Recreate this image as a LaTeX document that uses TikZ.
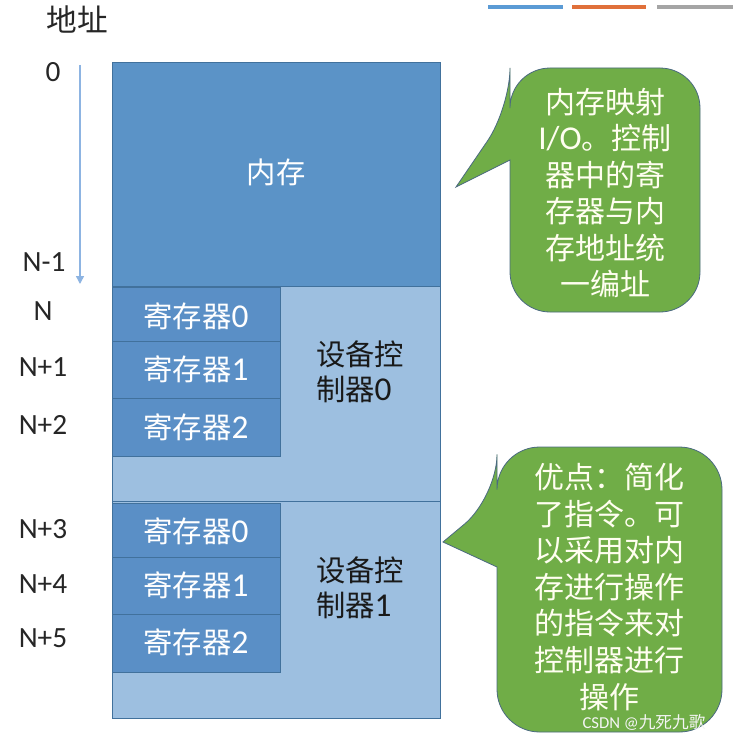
\documentclass[tikz,border=0pt]{standalone}
\usepackage{fontspec}
\setmainfont{Carlito}
\newfontfamily\cjk{Noto Sans CJK SC}
\usetikzlibrary{arrows.meta}
\definecolor{memblue}{HTML}{5B93C7}
\definecolor{ctlblue}{HTML}{9DBFE0}
\definecolor{regblue}{HTML}{5A8FC6}
\definecolor{edgeblue}{HTML}{41719C}
\definecolor{callgreen}{HTML}{70AD47}
\definecolor{callline}{HTML}{4A6A80}
\definecolor{legblue}{HTML}{5B9BD5}
\definecolor{legorange}{HTML}{E0703A}
\definecolor{leggray}{HTML}{A5A5A5}
\definecolor{arrowblue}{HTML}{8DB4E2}
\newcommand{\dg}[1]{{\fontsize{25}{25}\selectfont #1}}
\begin{document}
\begin{tikzpicture}[x=0.75pt,y=-0.75pt,
  addr/.style={font=\fontsize{22}{22}\selectfont, text=black!85, inner sep=0pt},
  regbox/.style={fill=regblue, draw=edgeblue, line width=0.6pt},
  ctlbox/.style={fill=ctlblue, draw=edgeblue, line width=0.6pt},
  regtxt/.style={text=white, font=\fontsize{22}{22}\selectfont, inner sep=0pt},
  ctltxt/.style={align=left, text=black!90, font=\fontsize{22}{26}\selectfont, inner sep=0pt},
  callout/.style={fill=callgreen, draw=callline, line width=0.6pt},
  calltxt/.style={align=center, text=white!94!yellow, font=\fontsize{22.5}{27.4}\selectfont, inner sep=0pt},
  legline/.style={line width=3pt}
]
\useasboundingbox (0,0) rectangle (736,742);
\fill[white] (0,0) rectangle (736,742);

% legend lines
\draw[legline, legblue] (488,7) -- (563,7);
\draw[legline, legorange] (572,7) -- (646,7);
\draw[legline, leggray] (657,7) -- (733,7);

% address title and labels
\node[font=\fontsize{23}{23}\selectfont, text=black!85, inner sep=0pt] (title) at (77,19) {\cjk 地址};
\node[addr] (a0) at (53,72) {0};
\node[addr] (aN1) at (44,262) {N-1};
\node[addr] (aN) at (43,311) {N};
\node[addr] (aNp1) at (43,367) {N+1};
\node[addr] (aNp2) at (43,425) {N+2};
\node[addr] (aNp3) at (43,529) {N+3};
\node[addr] (aNp4) at (43,584) {N+4};
\node[addr] (aNp5) at (43,638) {N+5};

\coordinate (arrTop) at (80,65);
\coordinate (arrBot) at (80,284);
\draw[arrowblue, line width=1.1pt, -{Triangle[width=6pt,length=6pt]}] (arrTop) -- (arrBot);

% memory block
\filldraw[fill=memblue, draw=edgeblue, line width=0.6pt] (112,62) rectangle (440,286);
\node[text=white, font=\fontsize{22}{22}\selectfont, inner sep=0pt] (mem) at (276,172) {\cjk 内存};

% controller 0
\filldraw[ctlbox] (112,286) rectangle (440,501);
\filldraw[regbox] (112,287) rectangle (280,341);
\filldraw[regbox] (112,341) rectangle (280,398);
\filldraw[regbox] (112,398) rectangle (280,456);
\node[regtxt] (r00) at (196,316) {{\cjk 寄存器}\dg{0}};
\node[regtxt] (r01) at (196,369) {{\cjk 寄存器}\dg{1}};
\node[regtxt] (r02) at (196,427) {{\cjk 寄存器}\dg{2}};
\node[ctltxt] (c0) at (360,372) {{\cjk 设备控}\\{\cjk 制器}\dg{0}};

% controller 1
\filldraw[ctlbox] (112,501) rectangle (440,718);
\filldraw[regbox] (112,503) rectangle (280,557);
\filldraw[regbox] (112,557) rectangle (280,614);
\filldraw[regbox] (112,614) rectangle (280,672);
\node[regtxt] (r10) at (196,531) {{\cjk 寄存器}\dg{0}};
\node[regtxt] (r11) at (196,585) {{\cjk 寄存器}\dg{1}};
\node[regtxt] (r12) at (196,642) {{\cjk 寄存器}\dg{2}};
\node[ctltxt] (c1) at (360,588) {{\cjk 设备控}\\{\cjk 制器}\dg{1}};

% callout 1
\draw[callout] (510,220) [rounded corners=30] -- (510,312) -- (700,312) -- (700,68) -- (510,68) -- (510,108) [sharp corners] -- (456,187) -- (510,160) -- cycle;
\node[calltxt] (call1) at (605,193) {{\cjk 内存映射}\\{\fontsize{25}{25}\selectfont I/O}{\cjk 。控制}\\{\cjk 器中的寄}\\{\cjk 存器与内}\\{\cjk 存地址统}\\{\cjk 一编址}};

% callout 2
\draw[callout] (497,620) [rounded corners=32] -- (497,732) -- (722,732) -- (722,447) -- (497,447) -- (497,497) [sharp corners] -- (443,542) -- (497,567) -- cycle;
\node[calltxt] (call2) at (609,587) {{\cjk 优点：简化}\\{\cjk 了指令。可}\\{\cjk 以采用对内}\\{\cjk 存进行操作}\\{\cjk 的指令来对}\\{\cjk 控制器进行}\\{\cjk 操作}};

% watermark
\node[text=white!92!gray, font=\fontsize{12.5}{12.5}\selectfont, inner sep=0pt] (wm) at (644,722) {CSDN @{\cjk 九死九歌}};
\end{tikzpicture}
\end{document}
